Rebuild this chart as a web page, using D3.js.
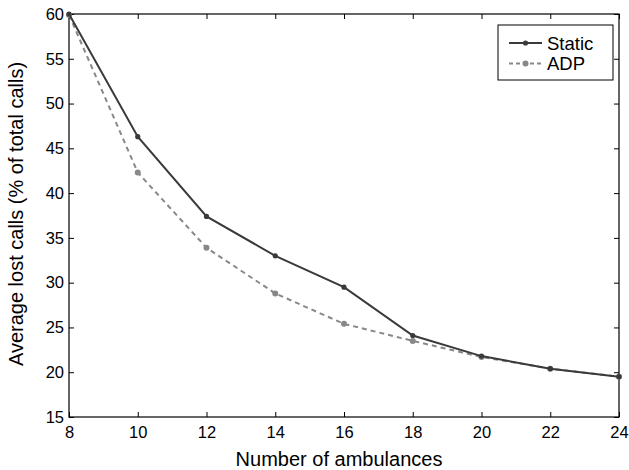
<!DOCTYPE html>
<html>
<head>
    <script src="https://d3js.org/d3.v7.min.js"></script>
    <style>
        body { margin: 0; background: #fff; }
        svg { font-family: "Liberation Sans", Arial, sans-serif; }
    </style>
</head>
<body>
    <svg width="629" height="470" id="chart"></svg>
    <script>
        // Data
        const ambulances = [8, 10, 12, 14, 16, 18, 20, 22, 24];
        const staticLost = [60, 46.3, 37.4, 33.0, 29.5, 24.1, 21.8, 20.4, 19.5];
        const adpLost = [59.9, 42.3, 33.9, 28.8, 25.4, 23.5, 21.7, 20.4, 19.5];
        const xTicks = [8, 10, 12, 14, 16, 18, 20, 22, 24];
        const yTicks = [15, 20, 25, 30, 35, 40, 45, 50, 55, 60];

        const svg = d3.select("#chart");
        const plotLeft = 69, plotRight = 619, plotTop = 14, plotBottom = 417;

        const x = d3.scaleLinear().domain([8, 24]).range([plotLeft, plotRight]);
        const y = d3.scaleLinear().domain([15, 60]).range([plotBottom, plotTop]);

        const axisColor = "#000";
        const tickLen = 5;

        // frame box
        svg.append("rect")
            .attr("x", plotLeft).attr("y", plotTop)
            .attr("width", plotRight - plotLeft).attr("height", plotBottom - plotTop)
            .attr("fill", "none").attr("stroke", axisColor).attr("stroke-width", 1.2);

        // axes with inward ticks
        const xAxis = svg.append("g")
            .attr("transform", `translate(0,${plotBottom})`)
            .call(d3.axisBottom(x).tickValues(xTicks).tickSizeInner(-tickLen).tickSizeOuter(0).tickPadding(9));
        const xTop = svg.append("g")
            .attr("transform", `translate(0,${plotTop})`)
            .call(d3.axisTop(x).tickValues(xTicks).tickSizeInner(-tickLen).tickSizeOuter(0).tickFormat(""));
        const yAxis = svg.append("g")
            .attr("transform", `translate(${plotLeft},0)`)
            .call(d3.axisLeft(y).tickValues(yTicks).tickSizeInner(-tickLen).tickSizeOuter(0).tickPadding(5));
        const yRight = svg.append("g")
            .attr("transform", `translate(${plotRight},0)`)
            .call(d3.axisRight(y).tickValues(yTicks).tickSizeInner(-tickLen).tickSizeOuter(0).tickFormat(""));

        [xAxis, xTop, yAxis, yRight].forEach(g => {
            g.select(".domain").remove();
            g.selectAll("line").attr("stroke", axisColor).attr("stroke-width", 1);
            g.selectAll("text").attr("font-size", "16.5px").attr("fill", "#000")
                .attr("font-family", "Liberation Sans, Arial, sans-serif");
        });

        // axis titles
        svg.append("text")
            .attr("x", 339).attr("y", 466)
            .attr("text-anchor", "middle").attr("font-size", "20px")
            .text("Number of ambulances");
        svg.append("text")
            .attr("transform", `translate(23,214) rotate(-90)`)
            .attr("text-anchor", "middle").attr("font-size", "20px")
            .text("Average lost calls (% of total calls)");

        const line = d3.line().x((d, i) => x(ambulances[i])).y(d => y(d));

        const series = [
            { name: "Static", values: staticLost, color: "#3a3a3a", dash: null, r: 2.6 },
            { name: "ADP", values: adpLost, color: "#888888", dash: "5,4", r: 3 }
        ];

        // draw ADP first so Static sits on top
        series.slice().reverse().forEach(s => {
            svg.append("path")
                .attr("d", line(s.values))
                .attr("fill", "none")
                .attr("stroke", s.color)
                .attr("stroke-width", 2)
                .attr("stroke-dasharray", s.dash);
            svg.selectAll(null)
                .data(s.values)
                .enter().append("circle")
                .attr("cx", (d, i) => x(ambulances[i]))
                .attr("cy", d => y(d))
                .attr("r", s.r)
                .attr("fill", s.color);
        });

        // legend
        const legend = svg.append("g");
        legend.append("rect")
            .attr("x", 498).attr("y", 25)
            .attr("width", 115).attr("height", 55)
            .attr("fill", "#fff").attr("stroke", "#000").attr("stroke-width", 1);
        series.forEach((s, i) => {
            const ly = 43 + i * 20.5;
            legend.append("line")
                .attr("x1", 509).attr("x2", 542).attr("y1", ly).attr("y2", ly)
                .attr("stroke", s.color).attr("stroke-width", 2)
                .attr("stroke-dasharray", s.dash ? "4,3" : null);
            legend.append("circle")
                .attr("cx", 525.5).attr("cy", ly).attr("r", s.r).attr("fill", s.color);
            legend.append("text")
                .attr("x", 547).attr("y", ly + 6.5)
                .attr("font-size", "18.5px").attr("fill", "#000")
                .text(s.name);
        });
    </script>
</body>
</html>
